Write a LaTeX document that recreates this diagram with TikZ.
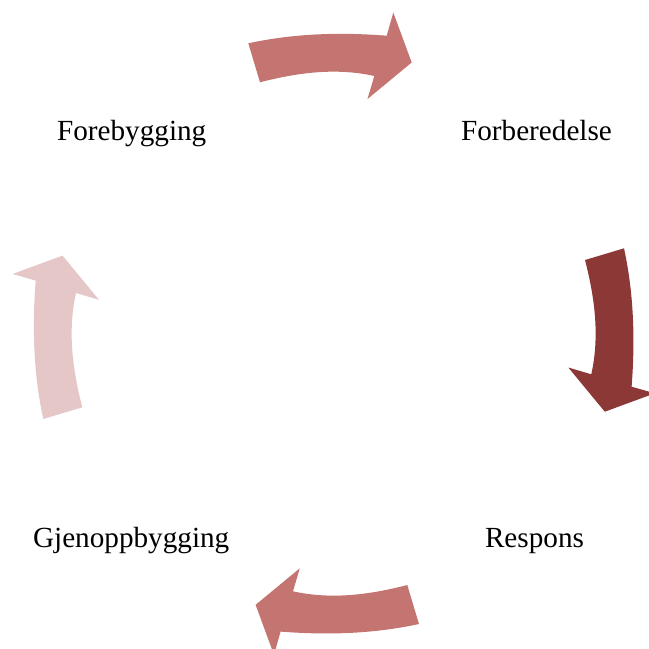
\documentclass[tikz,border=0pt]{standalone}
\usepackage{fontspec}
\setmainfont{Liberation Serif}
\definecolor{arrowmid}{RGB}{196,117,114}
\definecolor{arrowdark}{RGB}{139,56,55}
\definecolor{arrowlight}{RGB}{229,199,199}
\tikzset{
  lbl/.style={anchor=base, inner sep=0pt, font=\fontsize{29.2}{34}\selectfont},
  cycarrow/.style={draw=none}
}
\newcommand{\cyclearrowpath}{%
  (248.3,43.3) .. controls (294.3,33.3) and (340.7,32.1) .. (386.7,35.7)
  -- (393.3,12.5) -- (411.7,62.5) -- (367.5,99.0) -- (374.3,76.0)
  .. controls (336.0,67.5) and (298.0,72.5) .. (260.0,82.3) -- cycle}
\begin{document}
\begin{tikzpicture}[x=1pt,y=-1pt]
\useasboundingbox (0,0) rectangle (649,649);
\coordinate (ctr) at (333.65,333.65);
\fill[cycarrow, arrowmid] \cyclearrowpath;
\fill[cycarrow, arrowdark, rotate around={-90:(ctr)}] \cyclearrowpath;
\fill[cycarrow, arrowmid, rotate around={180:(ctr)}] \cyclearrowpath;
\fill[cycarrow, arrowlight, rotate around={90:(ctr)}] \cyclearrowpath;
\node[lbl] (forebygging) at (131.7,140) {Forebygging};
\node[lbl] (forberedelse) at (536.5,140) {Forberedelse};
\node[lbl] (respons) at (534.5,547) {Respons};
\node[lbl] (gjenoppbygging) at (131.2,547) {Gjenoppbygging};
\end{tikzpicture}
\end{document}
